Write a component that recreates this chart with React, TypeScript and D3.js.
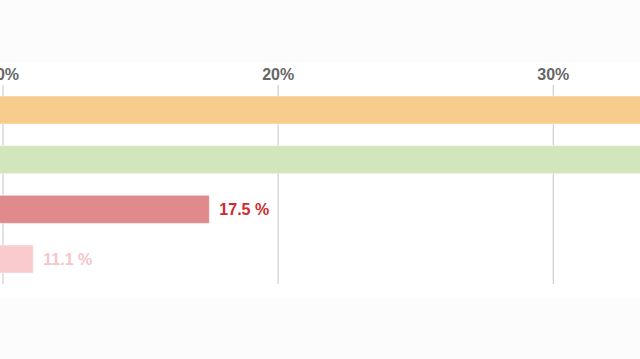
import React from "react";
import * as d3 from "d3";

const categories = ["Group 1", "Group 2", "Group 3", "Group 4"];
const values = [38.4, 36.9, 17.5, 11.1];
const barColors = ["#f8cc8d", "#d3e5ba", "#e08a8c", "#f9cbce"];
const labelColors = ["#e8a33d", "#8fbf5a", "#cf2a30", "#f6c5c8"];
const ticks = [10, 20, 30, 40];

export default function App() {
  const W = 640;
  const H = 359;
  const x = d3.scaleLinear().domain([10, 30]).range([3, 553.3]);
  const y = d3.scaleBand<string>().domain(categories).range([96, 273]).paddingInner(0.436).paddingOuter(0);
  const font = "'Liberation Sans', Arial, Helvetica, sans-serif";
  return (
    <div style={{ position: "fixed", left: 0, top: 0, width: W, height: H }}>
      <svg width={W} height={H} style={{ display: "block" }}>
        <rect x={0} y={0} width={W} height={H} fill="#fcfcfc" />
        <rect x={0} y={63} width={W} height={236} fill="#ffffff" />
        {ticks.map((t) => (
          <g key={t}>
            <line x1={x(t)} x2={x(t)} y1={85} y2={284} stroke="#cfcfcf" strokeWidth={1.2} />
            <text x={x(t)} y={80} textAnchor="middle" fontFamily={font} fontWeight="bold" fontSize={16} fill="#666666">
              {t}%
            </text>
          </g>
        ))}
        {categories.map((c, i) => {
          const y0 = y(c) as number;
          const bw = y.bandwidth();
          const x0 = x(0);
          const x1 = x(values[i]);
          return (
            <g key={c}>
              <rect x={x0} y={y0} width={x1 - x0} height={bw} fill={barColors[i]} stroke="rgba(255,255,255,0.45)" strokeWidth={1} />
              <text x={x1 + 10} y={y0 + bw / 2} dy="0.36em" fontFamily={font} fontWeight="bold" fontSize={16} fill={labelColors[i]}>
                {values[i].toFixed(1)} %
              </text>
            </g>
          );
        })}
      </svg>
    </div>
  );
}
